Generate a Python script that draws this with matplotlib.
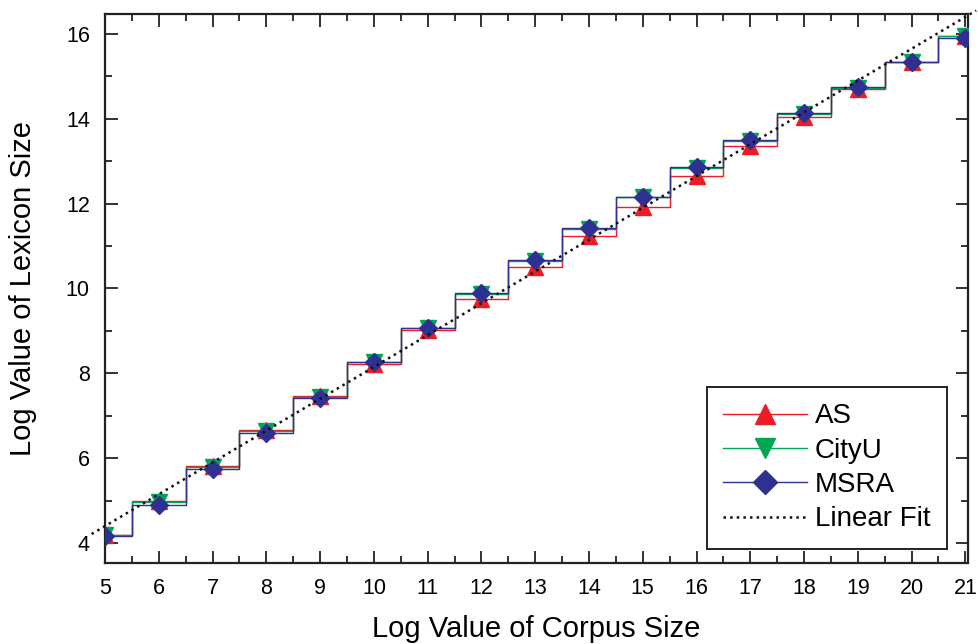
import matplotlib
matplotlib.use("Agg")
import matplotlib.pyplot as plt
import numpy as np

plt.rcParams['font.family'] = ['Liberation Sans', 'DejaVu Sans']

# log corpus size (x) and log lexicon size for each corpus
corpus_log = [5, 6, 7, 8, 9, 10, 11, 12, 13, 14, 15, 16, 17, 18, 19, 20, 21]
as_lex = [4.20, 4.98, 5.82, 6.66, 7.47, 8.22, 9.01, 9.76, 10.51, 11.24,
          11.92, 12.66, 13.36, 14.04, 14.70, 15.33, 15.96]
cityu_lex = [4.20, 4.97, 5.80, 6.64, 7.45, 8.27, 9.07, 9.87, 10.65, 11.40,
             12.15, 12.84, 13.48, 14.11, 14.72, 15.33, 15.94]
msra_lex = [4.17, 4.90, 5.74, 6.59, 7.42, 8.26, 9.08, 9.89, 10.68, 11.43,
            12.16, 12.86, 13.50, 14.13, 14.74, 15.34, 15.90]

# linear fit parameters
fit_slope = 0.75
fit_intercept = 0.65
fit_x = [4.75, 21.2]

fig = plt.figure(figsize=(9.79, 6.44), dpi=100)
ax = fig.add_axes([0.1073, 0.1258, 0.8815, 0.8525])

ax.plot(corpus_log, as_lex, drawstyle='steps-mid', color='#ed1c24', lw=1.0,
        marker='^', ms=11, mec='#ed1c24', mfc='#ed1c24', label='AS', zorder=3)
ax.plot(corpus_log, cityu_lex, drawstyle='steps-mid', color='#00a651', lw=1.0,
        marker='v', ms=11, mec='#00a651', mfc='#00a651', label='CityU', zorder=4)
ax.plot(corpus_log, msra_lex, drawstyle='steps-mid', color='#2e3192', lw=1.0,
        marker='D', ms=9, mec='#2e3192', mfc='#2e3192', label='MSRA', zorder=5)

fx = np.array(fit_x)
ax.plot(fx, fit_slope * fx + fit_intercept, ls=':', color='#111111', lw=1.8,
        label='Linear Fit', clip_on=False, zorder=6)

ax.set_xlim(5, 21.05)
ax.set_ylim(3.53, 16.47)
ax.set_xticks(range(5, 22))
ax.set_xticks(np.arange(5.5, 21, 1), minor=True)
ax.set_yticks(range(4, 17, 2))
ax.set_yticks(range(5, 17, 2), minor=True)

ax.tick_params(which='both', direction='in', top=True, right=True,
               width=1.3, color='#222222')
ax.tick_params(which='major', length=9, labelsize=15.5, pad=11)
ax.tick_params(which='minor', length=5)
for s in ax.spines.values():
    s.set_linewidth(1.6)
    s.set_color('#222222')

ax.set_xlabel('Log Value of Corpus Size', fontsize=21, labelpad=11)
ax.set_ylabel('Log Value of Lexicon Size', fontsize=21, labelpad=21)

leg = ax.legend(loc='lower right', bbox_to_anchor=(0.9757, 0.0255),
                borderaxespad=0, fontsize=20, numpoints=1,
                handlelength=3.0, handletextpad=0.3, labelspacing=0.3,
                borderpad=0.6, markerscale=1.35, fancybox=False,
                framealpha=1, edgecolor='#222222')
leg.get_frame().set_linewidth(1.4)

fig.savefig('out.png', dpi=100)
